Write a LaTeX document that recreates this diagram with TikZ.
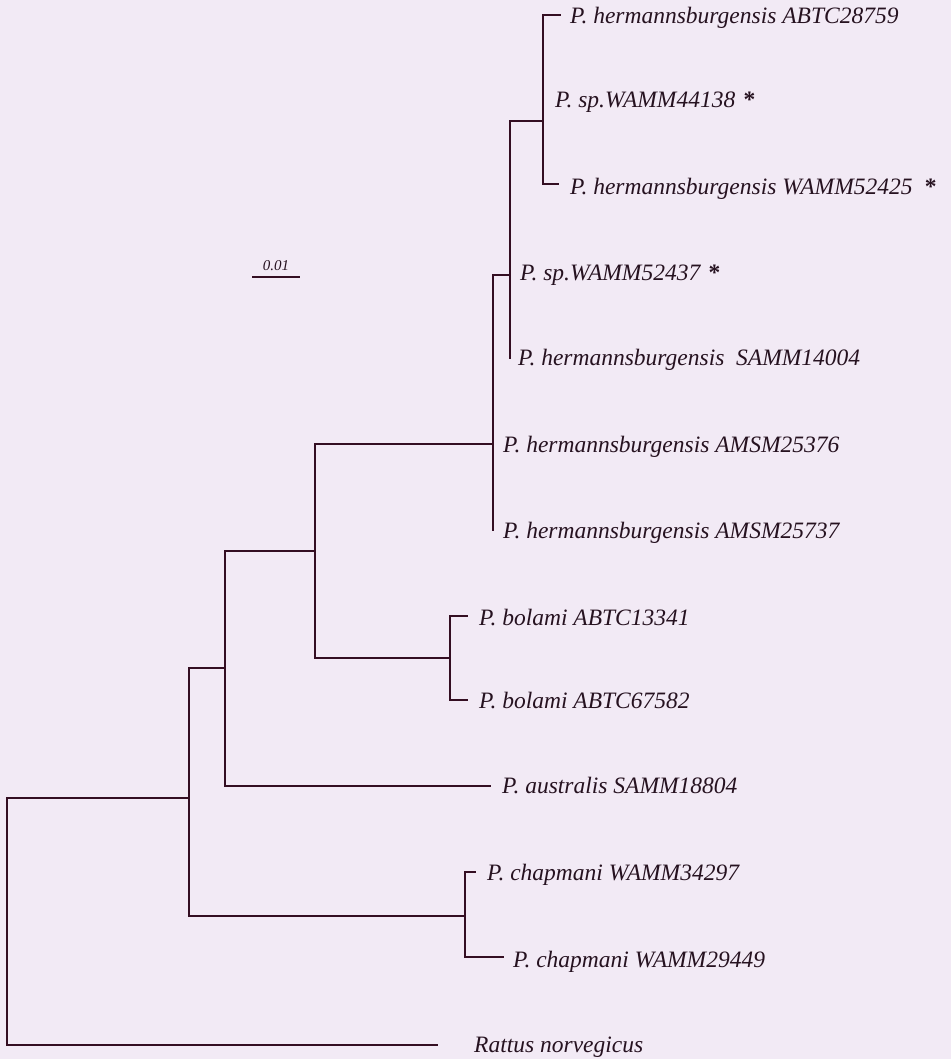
\documentclass[tikz,border=0pt]{standalone}
\usepackage{fontspec}
\setmainfont{Liberation Serif}
\definecolor{bgc}{RGB}{242,234,245}
\definecolor{lc}{RGB}{52,14,34}
\definecolor{tc}{RGB}{38,18,32}
\begin{document}
\begin{tikzpicture}[x=1pt,y=-1pt,
  br/.style={draw=lc,line width=1.8pt,line cap=rect},
  lab/.style={anchor=base west,inner sep=0pt,text=tc,font=\fontsize{23.5}{26}\selectfont\itshape},
  star/.style={anchor=base west,inner sep=0pt,text=tc,font=\fontsize{23.5}{26}\selectfont\bfseries},
  scl/.style={anchor=base,inner sep=0pt,text=tc,font=\fontsize{15}{17}\selectfont\itshape}]
\fill[bgc] (0,0) rectangle (951,1059);
\useasboundingbox (0,0) rectangle (951,1059);
% internal nodes
\coordinate (R) at (7,920);
\coordinate (A) at (189,798);
\coordinate (B) at (225,668);
\coordinate (C) at (315,551);
\coordinate (D) at (493,444);
\coordinate (E) at (510,275);
\coordinate (F) at (543,121);
\coordinate (Bo) at (450,658);
\coordinate (Ch) at (465,916);
% leaf ends
\coordinate (t1) at (560,15);
\coordinate (t3) at (558,184);
\coordinate (t5) at (510,358);
\coordinate (t7) at (493,530);
\coordinate (t8) at (467,616);
\coordinate (t9) at (467,700);
\coordinate (t10) at (490,786);
\coordinate (t11) at (475,872);
\coordinate (t12) at (503,957);
\coordinate (t13) at (437,1045);
% labels
\node[lab] (l1) at (570,24) {P. hermannsburgensis ABTC28759};
\node[lab] (l2) at (555,108) {P. sp.WAMM44138};
\node[star] (s2) at ([xshift=8pt]l2.base east) {*};
\node[lab] (l3) at (570,195) {P. hermannsburgensis WAMM52425};
\node[star] (s3) at ([xshift=12pt]l3.base east) {*};
\node[lab] (l4) at (520,280) {P. sp.WAMM52437};
\node[star] (s4) at ([xshift=8pt]l4.base east) {*};
\node[lab] (l5) at (518,365) {P. hermannsburgensis\ \ SAMM14004};
\node[lab] (l6) at (503,452) {P. hermannsburgensis AMSM25376};
\node[lab] (l7) at (503,538) {P. hermannsburgensis AMSM25737};
\node[lab] (l8) at (479,625) {P. bolami ABTC13341};
\node[lab] (l9) at (479,708) {P. bolami ABTC67582};
\node[lab] (l10) at (502,793) {P. australis SAMM18804};
\node[lab] (l11) at (487,880) {P. chapmani WAMM34297};
\node[lab] (l12) at (513,967) {P. chapmani WAMM29449};
\node[lab] (l13) at (474,1052) {Rattus norvegicus};
% branches
\draw[br] (R) |- (A);
\draw[br] (R) |- (t13);
\draw[br] (A) |- (B);
\draw[br] (A) |- (Ch);
\draw[br] (Ch) |- (t11);
\draw[br] (Ch) |- (t12);
\draw[br] (B) |- (C);
\draw[br] (B) |- (t10);
\draw[br] (C) |- (D);
\draw[br] (C) |- (Bo);
\draw[br] (Bo) |- (t8);
\draw[br] (Bo) |- (t9);
\draw[br] (D) |- (E);
\draw[br] (D) |- (t7);
\draw[br] (E) |- (F);
\draw[br] (E) |- (t5);
\draw[br] (F) |- (t1);
\draw[br] (F) |- (t3);
% scale bar
\coordinate (sa) at (252,277);
\coordinate (sb) at (300,277);
\draw[draw=lc,line width=1.3pt] (sa) -- (sb);
\node[scl] (sl) at (276,270) {0.01};
\end{tikzpicture}
\end{document}
